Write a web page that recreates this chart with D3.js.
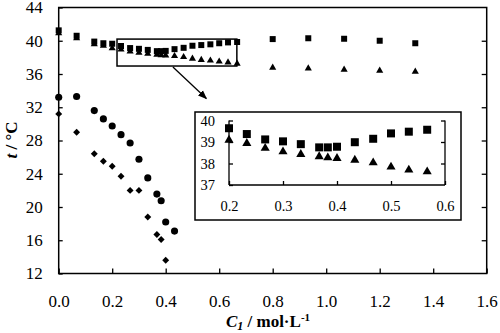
<!DOCTYPE html>
<html lang="en">
<head>
<meta charset="UTF-8">
<script src="https://cdn.jsdelivr.net/npm/d3@7"></script>
<title>t vs C1</title>
<style>
  body { margin: 0; background: #fff; }
  svg text { font-family: "Liberation Serif", "Times New Roman", serif !important; fill: #000; }
</style>
</head>
<body>
<script>
// upper two series (squares / triangles)
const upperX = [0, 0.067, 0.133, 0.167, 0.2, 0.233, 0.267, 0.3, 0.333, 0.367, 0.383, 0.4, 0.433,
                0.467, 0.5, 0.533, 0.567, 0.6, 0.633, 0.667, 0.8, 0.933, 1.067, 1.2, 1.333];
const squareT = [41.25, 40.6, 39.9, 39.7, 39.64, 39.37, 39.12, 39.03, 38.9, 38.75, 38.75, 38.78, 38.99,
                 39.15, 39.4, 39.48, 39.57, 39.7, 39.8, 39.85, 40.2, 40.3, 40.24, 40.0, 39.7];
const triangleT = [40.9, 40.3, 39.6, 39.4, 39.09, 38.94, 38.71, 38.55, 38.43, 38.32, 38.27, 38.24, 38.16,
                   38.04, 37.84, 37.7, 37.62, 37.5, 37.4, 37.25, 36.76, 36.68, 36.52, 36.4, 36.28];
// lower two series (circles / diamonds)
const circleX = [0, 0.067, 0.133, 0.167, 0.2, 0.233, 0.267, 0.3, 0.333, 0.367, 0.383, 0.4, 0.433];
const circleT = [33.2, 33.3, 31.6, 30.6, 29.75, 28.7, 27.7, 25.75, 23.5, 21.55, 20.75, 18.2, 17.1];
const diamondX = [0, 0.067, 0.133, 0.167, 0.2, 0.233, 0.267, 0.3, 0.333, 0.367, 0.383, 0.4];
const diamondT = [31.2, 29.0, 26.4, 25.5, 24.9, 23.7, 22.0, 22.0, 18.8, 16.7, 16.1, 13.6];

const xTicks = [0, 0.2, 0.4, 0.6, 0.8, 1.0, 1.2, 1.4, 1.6];
const yTicks = [12, 16, 20, 24, 28, 32, 36, 40, 44];
const insetXTicks = [0.2, 0.3, 0.4, 0.5, 0.6];
const insetYTicks = [37, 38, 39, 40];

const W = 500, H = 333;
const FONT = "'Liberation Serif', 'Times New Roman', serif";
const svg = d3.select("body").append("svg")
    .attr("width", W).attr("height", H);

// main plot
const x = d3.scaleLinear().domain([0, 1.6]).range([58.7, 486.7]);
const y = d3.scaleLinear().domain([12, 44]).range([273.5, 7.5]);

const sq = upperX.map((c, i) => ({ c: c, t: squareT[i] }));
const tri = upperX.map((c, i) => ({ c: c, t: triangleT[i] }));
const circ = circleX.map((c, i) => ({ c: c, t: circleT[i] }));
const dia = diamondX.map((c, i) => ({ c: c, t: diamondT[i] }));

const fmt1 = d3.format(".1f");
const fmt0 = d3.format("d");

function styleAxis(g, size) {
    g.attr("font-family", FONT);
    g.selectAll("text").style("font-family", FONT).style("font-size", size + "px");
}

// y axis left
svg.append("g")
    .attr("transform", "translate(" + x(0) + ",0)")
    .call(d3.axisLeft(y).tickValues(yTicks).tickSize(-4).tickSizeOuter(0).tickPadding(16).tickFormat(fmt0))
    .call(g => g.select(".domain").remove())
    .call(g => styleAxis(g, 17));

// y axis right (ticks only)
svg.append("g")
    .attr("transform", "translate(" + x(1.6) + ",0)")
    .call(d3.axisRight(y).tickValues(yTicks.slice(1, -1)).tickSize(-5).tickSizeOuter(0).tickFormat(""))
    .call(g => g.select(".domain").remove());

// x axis
svg.append("g")
    .attr("transform", "translate(0," + y(12) + ")")
    .call(d3.axisBottom(x).tickValues(xTicks).tickSize(-5).tickSizeOuter(0).tickPadding(21).tickFormat(fmt1))
    .call(g => g.select(".domain").remove())
    .call(g => styleAxis(g, 17));

svg.selectAll(".tick line").attr("stroke", "#000").attr("stroke-width", 1.3);

// frame
svg.append("rect")
    .attr("x", x(0)).attr("y", y(44))
    .attr("width", x(1.6) - x(0)).attr("height", y(12) - y(44))
    .attr("fill", "none").attr("stroke", "#000").attr("stroke-width", 1.5);

// axis titles
const xt = svg.append("text")
    .attr("x", 268).attr("y", 327)
    .attr("text-anchor", "middle")
    .style("font-family", FONT)
    .style("font-size", "17px").style("font-weight", "bold");
xt.append("tspan").style("font-style", "italic").text("C");
xt.append("tspan").style("font-style", "italic").style("font-size", "12px").attr("dy", 3).text("1");
xt.append("tspan").attr("dy", -3).text(" / mol·L");
xt.append("tspan").style("font-size", "11px").attr("dy", -6).text("-1");

const yt = svg.append("text")
    .attr("transform", "translate(17,140) rotate(-90)")
    .attr("text-anchor", "middle")
    .style("font-family", FONT)
    .style("font-size", "17px").style("font-weight", "bold");
yt.append("tspan").style("font-style", "italic").text("t");
yt.append("tspan").text(" / °C");

// markers
const symSq = d3.symbol().type(d3.symbolSquare).size(36);
const symTri = d3.symbol().type(d3.symbolTriangle).size(22);
const symCirc = d3.symbol().type(d3.symbolCircle).size(40);
const symDia = d3.symbol().type(d3.symbolSquare).size(24);

svg.append("g").selectAll("path").data(sq).enter().append("path")
    .attr("d", symSq).attr("transform", d => "translate(" + x(d.c) + "," + y(d.t) + ")");
svg.append("g").selectAll("path").data(tri).enter().append("path")
    .attr("d", symTri).attr("transform", d => "translate(" + x(d.c) + "," + y(d.t) + ")");
svg.append("g").selectAll("path").data(circ).enter().append("path")
    .attr("d", symCirc).attr("transform", d => "translate(" + x(d.c) + "," + y(d.t) + ")");
svg.append("g").selectAll("path").data(dia).enter().append("path")
    .attr("d", symDia).attr("transform", d => "translate(" + x(d.c) + "," + y(d.t) + ") rotate(45)");

// zoom box + arrow
svg.append("rect")
    .attr("x", x(0.218)).attr("y", y(40.2))
    .attr("width", x(0.666) - x(0.218)).attr("height", y(36.96) - y(40.2))
    .attr("fill", "none").attr("stroke", "#000").attr("stroke-width", 1.5);

svg.append("defs").append("marker")
    .attr("id", "ah").attr("viewBox", "0 0 10 10")
    .attr("refX", 9).attr("refY", 5)
    .attr("markerWidth", 7).attr("markerHeight", 7)
    .attr("orient", "auto")
    .append("path").attr("d", "M0,1 L10,5 L0,9 Z").attr("fill", "#000");

svg.append("line")
    .attr("x1", x(0.427)).attr("y1", y(36.85))
    .attr("x2", x(0.552)).attr("y2", y(33.05))
    .attr("stroke", "#000").attr("stroke-width", 1.3)
    .attr("marker-end", "url(#ah)");

// inset
const inset = svg.append("g");
inset.append("rect")
    .attr("x", 195).attr("y", 112).attr("width", 266).attr("height", 108)
    .attr("fill", "#fff").attr("stroke", "#000").attr("stroke-width", 1.5);

const ix = d3.scaleLinear().domain([0.2, 0.6]).range([229, 445]);
const iy = d3.scaleLinear().domain([37, 40]).range([185, 120.5]);

inset.append("g")
    .attr("transform", "translate(" + ix(0.2) + ",0)")
    .call(d3.axisLeft(iy).tickValues(insetYTicks).tickSize(-4).tickSizeOuter(0).tickPadding(14).tickFormat(fmt0))
    .call(g => g.select(".domain").attr("d", "M0," + iy(40) + "V" + iy(37)))
    .call(g => styleAxis(g, 14.5));

inset.append("g")
    .attr("transform", "translate(" + ix(0.6) + ",0)")
    .call(d3.axisRight(iy).tickValues([38, 39, 40]).tickSize(-4).tickSizeOuter(0).tickFormat(""))
    .call(g => g.select(".domain").attr("d", "M0," + iy(40) + "V" + iy(37)));

inset.append("g")
    .attr("transform", "translate(0," + iy(37) + ")")
    .call(d3.axisBottom(ix).tickValues(insetXTicks).tickSize(-4).tickSizeOuter(0).tickPadding(16).tickFormat(fmt1))
    .call(g => g.select(".domain").attr("d", "M" + ix(0.2) + ",0H" + ix(0.6)))
    .call(g => styleAxis(g, 14.5));

inset.selectAll(".domain").attr("stroke", "#000").attr("stroke-width", 1.3);
inset.selectAll(".tick line").attr("stroke", "#000").attr("stroke-width", 1.3);

const inRange = d => d.c >= 0.19 && d.c <= 0.58;
const isq = d3.symbol().type(d3.symbolSquare).size(64);
const itri = d3.symbol().type(d3.symbolTriangle).size(36);

inset.append("g").selectAll("path").data(sq.filter(inRange)).enter().append("path")
    .attr("d", isq).attr("transform", d => "translate(" + ix(d.c) + "," + iy(d.t) + ")");
inset.append("g").selectAll("path").data(tri.filter(inRange)).enter().append("path")
    .attr("d", itri).attr("transform", d => "translate(" + ix(d.c) + "," + iy(d.t) + ")");
</script>
</body>
</html>
